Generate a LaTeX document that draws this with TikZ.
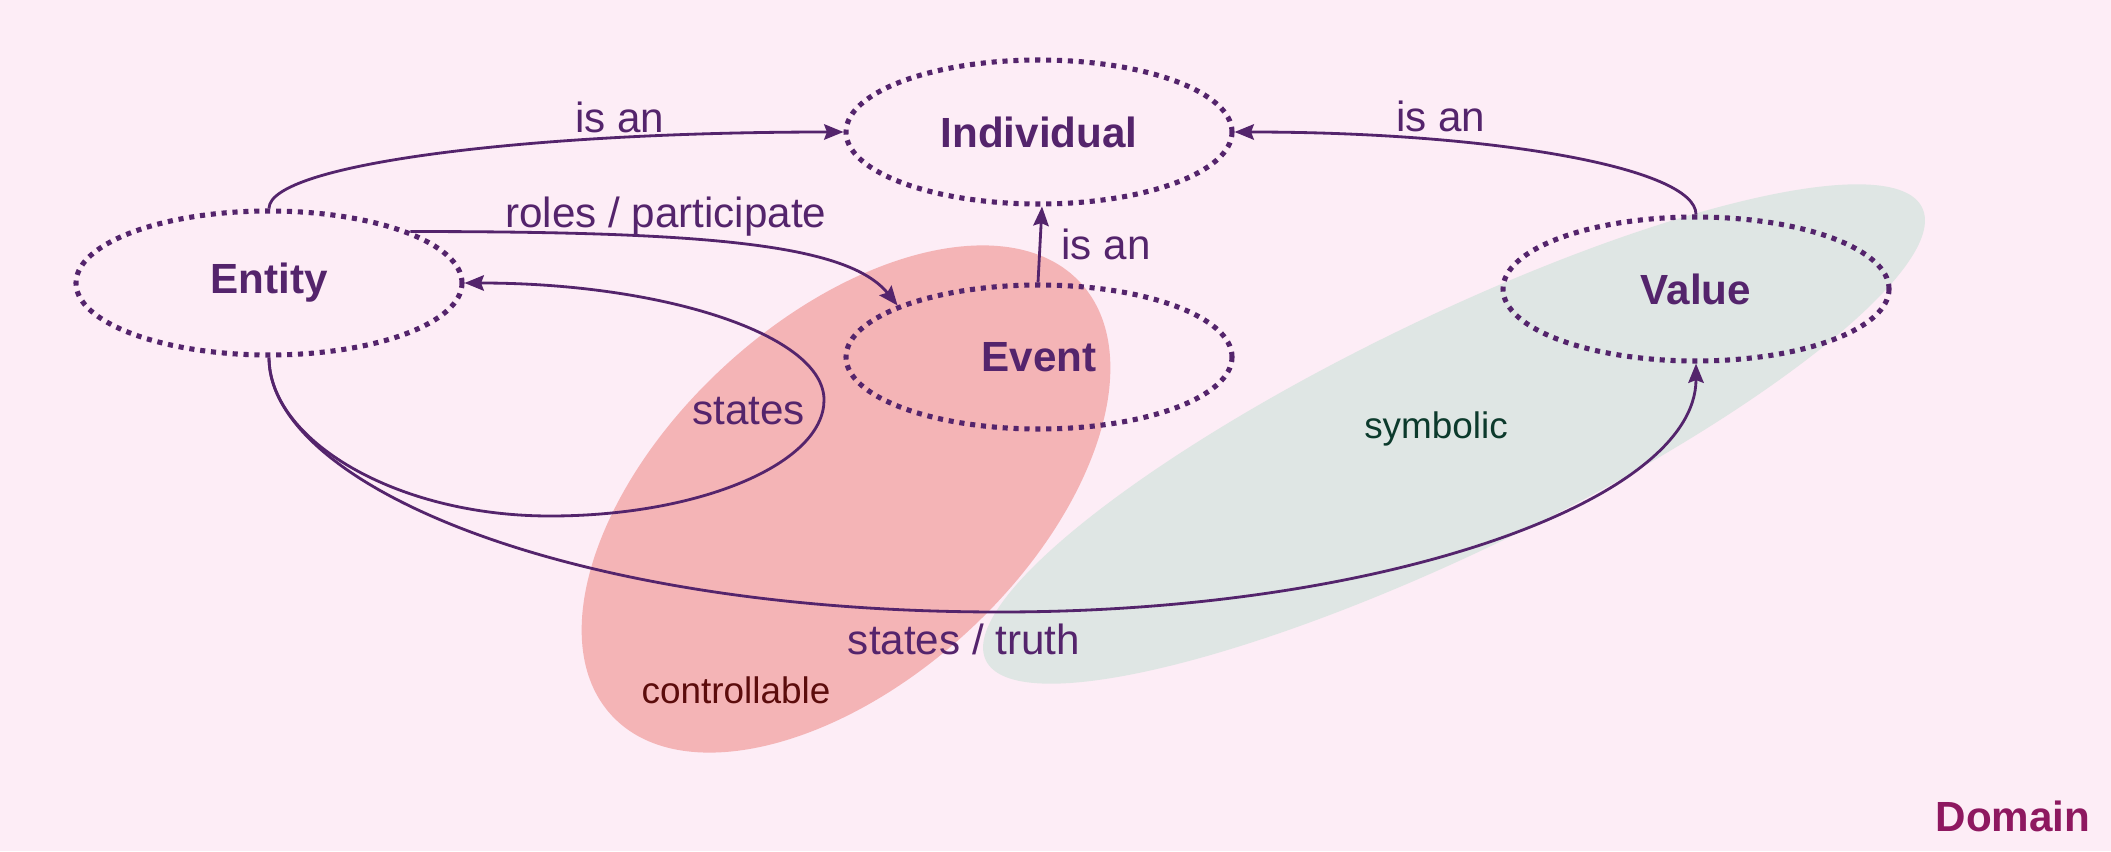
\documentclass[tikz,border=0pt]{standalone}
\usepackage{fontspec}
\setmainfont{Liberation Sans}
\usepackage{tikz}
\usetikzlibrary{shapes.geometric,arrows.meta,calc}
\definecolor{bgpink}{RGB}{253,237,246}
\definecolor{blobred}{RGB}{244,180,182}
\definecolor{blobgreen}{RGB}{223,230,228}
\definecolor{plum}{RGB}{84,36,108}
\definecolor{darkgreen}{RGB}{12,58,44}
\definecolor{darkred}{RGB}{92,12,12}
\definecolor{domaincol}{RGB}{142,24,96}

\begin{document}
\begin{tikzpicture}[font=\fontsize{12}{14}\selectfont, line width=0.8pt, >={Stealth[length=5.5pt,width=4.4pt,inset=0.8pt]}]
   \useasboundingbox (0,0) rectangle (21.11,8.51);
   \fill[bgpink] (0,0) rectangle (21.11,8.51);
   \fill[blobgreen, rotate around={25.8:(14.54,4.17)}] (14.54,4.17) ellipse (5.2 and 1.17);
   \fill[blobred, rotate around={42.7:(8.46,3.52)}] (8.46,3.52) ellipse (3.19 and 1.8);
   \node[text=darkgreen, font=\fontsize{10.5}{12}\selectfont] (sym) at (14.36,4.22) {symbolic};
   \node[text=darkred, font=\fontsize{10.5}{12}\selectfont] (ctrl) at (7.36,1.61) {controllable};
   \node[text=domaincol, font=\bfseries\fontsize{12}{14}\selectfont] (dom) at (20.13,0.35) {Domain};
   \begin{scope}[every node/.style={ellipse,draw=plum,text=plum,line width=1.45pt,dash pattern=on 1.45pt off 1.65pt,minimum width=3.86cm,minimum height=1.44cm,font=\bfseries\fontsize{12}{14}\selectfont}]
    \node (ind) at (10.39,7.19) {Individual};
    \node (ent) at (2.69,5.68) {Entity};
    \node (evt) at (10.39,4.94) {Event};
    \node (val) at (16.96,5.62) {Value};
   \end{scope}
   \coordinate (loopbot) at (5.50,3.35);
   \coordinate (loopright) at (8.24,4.51);
   \coordinate (truthlow) at (10.0,2.39);
   \begin{scope}[->, draw=plum, every node/.style={text=plum}]
    \draw (ent.north) .. controls +(0,0.44) and +(-3.18,0) .. node[pos=0.75, above, inner sep=1pt] {is an} (ind.west);
    \draw (val.north) .. controls +(0,0.47) and +(2.56,0) .. node[pos=0.71, above, inner sep=2pt] {is an} (ind.east);
    \draw ([xshift=-0.01cm]evt.north) -- node[right, inner sep=0.2cm] {is an} ([xshift=0.03cm]ind.south);
    \draw (ent.20) .. controls +(2.93,0) and +(-0.5,0.62) .. node[pos=0.35, above, inner sep=0pt] {roles / participate} (evt.160);
    \draw (ent.south) .. controls +(0,-0.82) and +(-1.55,0) .. (loopbot) .. controls +(1.51,0) and +(0,-0.63) .. (loopright) node[left=0.06cm, yshift=-0.11cm] {states} .. controls +(0,0.65) and +(1.99,0) .. (ent.east);
    \draw (ent.south) .. controls +(0,-1.25) and +(-4.39,0) .. (truthlow) node[below, xshift=-0.36cm, inner sep=3pt] {states / truth} .. controls +(3.84,0) and +(0,-1.37) .. (val.south);
   \end{scope}
\end{tikzpicture}
\end{document}
